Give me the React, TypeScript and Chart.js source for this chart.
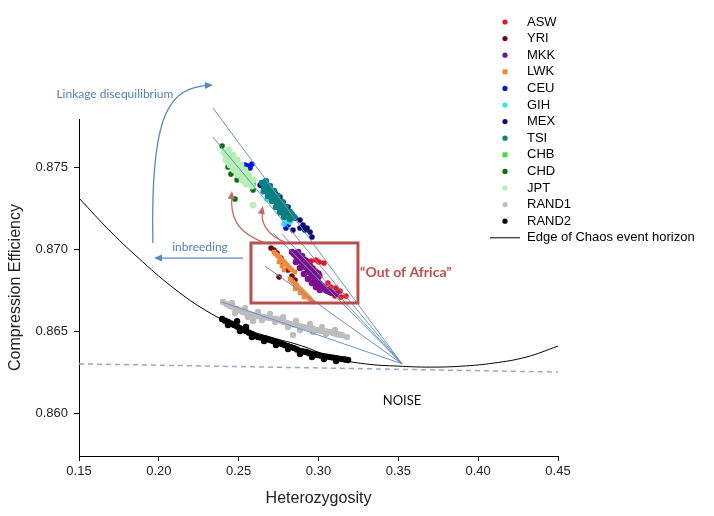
import React, { useEffect, useRef } from 'react';
import { Chart, registerables } from 'chart.js';

Chart.register(...registerables);

// ---------- axis ticks ----------
const xTicks = [0.15, 0.2, 0.25, 0.3, 0.35, 0.4, 0.45];
const yTicks = [0.86, 0.865, 0.87, 0.875];

// ---------- series (Heterozygosity, Compression Efficiency) ----------
const ASW: number[][] = [
  [0.2934, 0.86915], [0.2953, 0.86927], [0.2984, 0.86933], [0.3003, 0.86921], [0.3034, 0.86915],
  [0.2966, 0.86884], [0.2984, 0.86866], [0.3009, 0.86835], [0.3059, 0.86793], [0.3078, 0.86768],
  [0.311, 0.86762], [0.3135, 0.86744], [0.3172, 0.86713], [0.3103, 0.86713], [0.3141, 0.86707],
  [0.3047, 0.86744], [0.3022, 0.86768],
];
const YRI: number[][] = [
  [0.2703, 0.87006], [0.2721, 0.86994], [0.274, 0.86976], [0.2765, 0.86945], [0.2778, 0.86915],
  [0.2809, 0.86872], [0.2834, 0.86835], [0.2853, 0.86811], [0.2859, 0.8678], [0.2753, 0.86829],
];
const MKK: number[][] = [
  [0.2834, 0.86982], [0.2859, 0.86957], [0.2884, 0.86933], [0.2909, 0.86902], [0.2934, 0.86872],
  [0.2959, 0.86841], [0.2984, 0.86811], [0.3009, 0.86787], [0.3034, 0.86762], [0.3059, 0.86744],
  [0.3085, 0.86732], [0.311, 0.86726],
  [0.2872, 0.86982], [0.2897, 0.86957], [0.2922, 0.86927], [0.2947, 0.86896], [0.2972, 0.8686], [0.2997, 0.86829],
  [0.2859, 0.86921], [0.2884, 0.86884], [0.2909, 0.86848], [0.2934, 0.86817], [0.2959, 0.86793],
  [0.2984, 0.86768], [0.3009, 0.8675],
  [0.2847, 0.8697], [0.2872, 0.86945], [0.2897, 0.86918], [0.2922, 0.86887], [0.2947, 0.86857],
  [0.2972, 0.86826], [0.2997, 0.86799], [0.3022, 0.86775], [0.3047, 0.86753], [0.3072, 0.86738],
  [0.291, 0.86935], [0.296, 0.8688], [0.3, 0.8685],
];
const LWK: number[][] = [
  [0.2721, 0.86982], [0.274, 0.86963], [0.2759, 0.86945], [0.2778, 0.86927], [0.2796, 0.86909],
  [0.2815, 0.8689], [0.2834, 0.86872], [0.2753, 0.86921], [0.2771, 0.86896], [0.2784, 0.86872],
  [0.2853, 0.8686], [0.273, 0.86972], [0.275, 0.86954], [0.2768, 0.86936], [0.2787, 0.86918],
  [0.2805, 0.869], [0.2824, 0.86881],
  [0.2821, 0.86817], [0.284, 0.86799], [0.2859, 0.8678], [0.2878, 0.86762], [0.2897, 0.86744],
  [0.2915, 0.86726], [0.2934, 0.86707], [0.2953, 0.86689], [0.2966, 0.86677], [0.2853, 0.86756],
  [0.2884, 0.86732], [0.2909, 0.86707], [0.283, 0.86808], [0.285, 0.8679], [0.2868, 0.86771],
  [0.2888, 0.86753], [0.2906, 0.86735], [0.2925, 0.86716], [0.2944, 0.86698],
];
const CEU: number[][] = [
  [0.2558, 0.87506], [0.2583, 0.87518], [0.2571, 0.87494], [0.254, 0.87512], [0.2652, 0.87384],
  [0.2796, 0.87128], [0.2809, 0.87146],
];
const GIH: number[][] = [
  [0.2652, 0.87348], [0.2677, 0.87305], [0.2759, 0.87219], [0.2803, 0.87171], [0.2784, 0.87152],
  [0.2821, 0.87165],
];
const MEX: number[][] = [
  [0.2634, 0.8739], [0.2646, 0.87402], [0.2665, 0.87378], [0.2728, 0.87341], [0.2759, 0.87317],
  [0.2778, 0.87287], [0.2809, 0.87256], [0.2834, 0.87207], [0.2853, 0.87189], [0.2884, 0.87177],
  [0.2903, 0.87146], [0.2928, 0.87128], [0.2959, 0.87073], [0.2884, 0.87128], [0.284, 0.87116],
  [0.2947, 0.87104], [0.2915, 0.87116],
];
const TSI: number[][] = [
  [0.2646, 0.87402], [0.2671, 0.87372], [0.2696, 0.87341], [0.2721, 0.87311], [0.2746, 0.87274],
  [0.2771, 0.87244], [0.2796, 0.87213], [0.2821, 0.87183],
  [0.2671, 0.87415], [0.2696, 0.87384], [0.2721, 0.87354], [0.2746, 0.87323], [0.2771, 0.87287],
  [0.2796, 0.87256], [0.2821, 0.87226], [0.2847, 0.87195],
  [0.2659, 0.87354], [0.2684, 0.87323], [0.2709, 0.87293], [0.2734, 0.87256], [0.2759, 0.87226],
  [0.2784, 0.87195],
  [0.2659, 0.87388], [0.2684, 0.87357], [0.2709, 0.87326], [0.2734, 0.87293], [0.2759, 0.87259],
  [0.2784, 0.87228], [0.2809, 0.87198], [0.2834, 0.8721],
];
const CHB: number[][] = [
  [0.2427, 0.87561], [0.2446, 0.87537], [0.2596, 0.87396], [0.2565, 0.87433],
];
const CHD: number[][] = [
  [0.2396, 0.87628], [0.2433, 0.875], [0.2452, 0.87457], [0.249, 0.87421], [0.2477, 0.87305],
  [0.259, 0.8736], [0.2583, 0.87402],
];
const JPT: number[][] = [
  [0.2408, 0.87591], [0.2433, 0.87561], [0.2458, 0.8753], [0.2483, 0.875], [0.2508, 0.8747],
  [0.2533, 0.87439], [0.2558, 0.87409], [0.2583, 0.87384],
  [0.2439, 0.87604], [0.2464, 0.87573], [0.249, 0.87543], [0.2515, 0.87512], [0.254, 0.87482],
  [0.2565, 0.87451], [0.259, 0.87421],
  [0.2421, 0.87543], [0.2446, 0.87512], [0.2471, 0.87482], [0.2496, 0.87451], [0.2521, 0.87421],
  [0.2546, 0.87396], [0.259, 0.87268],
  [0.242, 0.87575], [0.2446, 0.87548], [0.2471, 0.87515], [0.2496, 0.87485], [0.2521, 0.87455],
  [0.2546, 0.87424], [0.2571, 0.874],
];
const RAND1: number[][] = [
  [0.2402, 0.86677], [0.2446, 0.86652], [0.249, 0.86634], [0.2527, 0.86616], [0.2571, 0.86604],
  [0.2615, 0.86591], [0.2659, 0.86585], [0.2696, 0.86579], [0.274, 0.86573], [0.2784, 0.86555],
  [0.2822, 0.86543], [0.2865, 0.86537], [0.2909, 0.86524], [0.2947, 0.86518], [0.2991, 0.86506],
  [0.3028, 0.865], [0.3072, 0.86494], [0.311, 0.86482], [0.3147, 0.86476], [0.3178, 0.86463],
  [0.2458, 0.86671], [0.254, 0.8664], [0.2621, 0.86616], [0.2696, 0.86604], [0.2778, 0.86585],
  [0.2859, 0.86561], [0.2947, 0.86543], [0.3022, 0.86524], [0.3103, 0.86506],
  [0.2477, 0.8661], [0.2558, 0.86585], [0.2646, 0.86567], [0.2728, 0.86555], [0.2809, 0.86524],
  [0.2884, 0.86506], [0.2966, 0.86494], [0.3047, 0.86482], [0.259, 0.86561], [0.284, 0.86476],
  [0.2424, 0.86664], [0.2468, 0.86643], [0.2509, 0.86625], [0.2549, 0.8661], [0.2593, 0.86597],
  [0.2637, 0.86588], [0.2677, 0.86582], [0.2718, 0.86576], [0.2762, 0.86564], [0.2803, 0.86549],
  [0.2843, 0.8654], [0.2887, 0.8653], [0.2928, 0.86521], [0.2969, 0.86512], [0.3009, 0.86503],
  [0.305, 0.86497], [0.3091, 0.86488], [0.3128, 0.86479],
];
const RAND2: number[][] = [
  [0.2396, 0.86573], [0.2433, 0.86555], [0.2471, 0.86537], [0.2508, 0.86518], [0.2546, 0.865],
  [0.2583, 0.86482], [0.2621, 0.86463], [0.2659, 0.86457], [0.2696, 0.86445], [0.2734, 0.86433],
  [0.2771, 0.86421], [0.2809, 0.86408], [0.2847, 0.86396], [0.2884, 0.86378], [0.2922, 0.86372],
  [0.2959, 0.8636], [0.2997, 0.86354], [0.3034, 0.86347], [0.3072, 0.86341], [0.311, 0.86335],
  [0.3147, 0.86329], [0.3185, 0.86323],
  [0.2433, 0.86537], [0.2508, 0.865], [0.2583, 0.86464], [0.2659, 0.86439], [0.2734, 0.86415],
  [0.2809, 0.8639], [0.2884, 0.8636], [0.2959, 0.86342], [0.3034, 0.86329], [0.311, 0.86317],
  [0.249, 0.8656], [0.2546, 0.86525],
  [0.2415, 0.86563], [0.2452, 0.86546], [0.249, 0.86528], [0.2527, 0.86509], [0.2565, 0.8649],
  [0.2602, 0.86472], [0.264, 0.8646], [0.2677, 0.86451], [0.2715, 0.86439], [0.2752, 0.86427],
  [0.279, 0.86414], [0.2828, 0.86402], [0.2865, 0.86387], [0.2903, 0.86375], [0.294, 0.86366],
  [0.2978, 0.86357], [0.3016, 0.8635], [0.3053, 0.86344], [0.3091, 0.86338], [0.3128, 0.86332],
  [0.3166, 0.86326],
];

const seriesNames = ['ASW', 'YRI', 'MKK', 'LWK', 'CEU', 'GIH', 'MEX', 'TSI', 'CHB', 'CHD', 'JPT', 'RAND1', 'RAND2'];
const seriesData = [ASW, YRI, MKK, LWK, CEU, GIH, MEX, TSI, CHB, CHD, JPT, RAND1, RAND2];
const seriesColors = ['#e8141c', '#6d0a12', '#7a1090', '#f28a3c', '#0a14d8', '#30e0f0', '#0a0a78', '#0a8080', '#3ee03e', '#0a6e0a', '#b4f0b4', '#bdbdbd', '#000000'];
const seriesShapes = ['circle', 'circle', 'circle', 'rect', 'circle', 'circle', 'circle', 'circle', 'rect', 'circle', 'circle', 'circle', 'circle'];
const seriesRadius = [2.8, 2.8, 3.3, 3.2, 2.8, 2.8, 2.8, 3.3, 2.8, 2.8, 3.4, 3.2, 3.2];

// ---------- Edge of Chaos event horizon ----------
const edgeX = [0.15, 0.17, 0.19, 0.21, 0.23, 0.25, 0.27, 0.29, 0.31, 0.33, 0.35, 0.37, 0.39, 0.41, 0.43, 0.45];
const edgeY = [0.87311, 0.87104, 0.86921, 0.86756, 0.86622, 0.86524, 0.86463, 0.86408, 0.86335, 0.86299, 0.86286, 0.8628, 0.86286, 0.86305, 0.86341, 0.86408];

// ---------- noise floor (dashed) ----------
const noiseX = [0.15, 0.45];
const noiseY = [0.863, 0.8625];

// ---------- fan lines to the noise point ----------
const fanApex = [0.3523, 0.863];
const fanStarts: number[][] = [
  [0.2339, 0.8786], [0.2339, 0.87683], [0.2715, 0.87098], [0.2771, 0.87091], [0.2665, 0.86896], [0.2396, 0.86677],
];

// ---------- annotations (data coordinates) ----------
const ldArrow = [[0.1963, 0.87037], [0.1945, 0.87848], [0.207, 0.87982], [0.2339, 0.88]];
const ldLabel = { text: 'Linkage disequilibrium', at: [0.1725, 0.87945] };
const inbreedArrow = [[0.2527, 0.86945], [0.197, 0.86945]];
const inbreedLabel = { text: 'inbreeding', at: [0.2258, 0.87012] };
const redArrows = [
  [[0.2665, 0.87037], [0.2477, 0.87104], [0.2446, 0.87207], [0.2458, 0.87354]],
  [[0.2803, 0.87037], [0.2665, 0.87085], [0.2634, 0.87177], [0.2652, 0.87262]],
];
const africaBox = [[0.2577, 0.87037], [0.3247, 0.86671]];
const africaLabel = { text: '\u201COut of Africa\u201D', at: [0.326, 0.8686] };
const noiseLabel = { text: 'NOISE', at: [0.3523, 0.86073] };

const edgeLabel = 'Edge of Chaos event horizon';

function arrowHead(ctx: CanvasRenderingContext2D, fx: number, fy: number, tx: number, ty: number, color: string) {
  const a = Math.atan2(ty - fy, tx - fx);
  const len = 8, w = 3.5;
  ctx.save();
  ctx.fillStyle = color;
  ctx.beginPath();
  ctx.moveTo(tx, ty);
  ctx.lineTo(tx - len * Math.cos(a) + w * Math.sin(a), ty - len * Math.sin(a) - w * Math.cos(a));
  ctx.lineTo(tx - len * Math.cos(a) - w * Math.sin(a), ty - len * Math.sin(a) + w * Math.cos(a));
  ctx.closePath();
  ctx.fill();
  ctx.restore();
}

const overlayPlugin = {
  id: 'overlay',
  afterDatasetsDraw(chart: any) {
    const { ctx } = chart;
    const xs = chart.scales.x, ys = chart.scales.y;
    const P = (p: number[]) => [xs.getPixelForValue(p[0]), ys.getPixelForValue(p[1])];
    ctx.save();
    const [b1x, b1y] = P(africaBox[0]);
    const [b2x, b2y] = P(africaBox[1]);
    ctx.strokeStyle = '#b5504e';
    ctx.lineWidth = 3;
    ctx.strokeRect(b1x, b1y, b2x - b1x, b2y - b1y);

    const red = '#c46a66';
    redArrows.forEach((pts) => {
      const q = pts.map(P);
      ctx.strokeStyle = red;
      ctx.lineWidth = 1.3;
      ctx.beginPath();
      ctx.moveTo(q[0][0], q[0][1]);
      ctx.bezierCurveTo(q[1][0], q[1][1], q[2][0], q[2][1], q[3][0], q[3][1] + 4);
      ctx.stroke();
      arrowHead(ctx, q[2][0], q[2][1], q[3][0], q[3][1], red);
    });

    const blue = '#5a86c0';
    const l = ldArrow.map(P);
    ctx.strokeStyle = blue;
    ctx.lineWidth = 1.3;
    ctx.beginPath();
    ctx.moveTo(l[0][0], l[0][1]);
    ctx.bezierCurveTo(l[1][0], l[1][1], l[2][0], l[2][1], l[3][0] - 4, l[3][1]);
    ctx.stroke();
    arrowHead(ctx, l[2][0], l[2][1], l[3][0], l[3][1], blue);

    const ib = inbreedArrow.map(P);
    ctx.beginPath();
    ctx.moveTo(ib[0][0], ib[0][1]);
    ctx.lineTo(ib[1][0] + 4, ib[1][1]);
    ctx.stroke();
    arrowHead(ctx, ib[0][0], ib[0][1], ib[1][0], ib[1][1], blue);

    ctx.textAlign = 'center';
    ctx.textBaseline = 'middle';
    ctx.fillStyle = '#4f7fbd';
    ctx.font = '12px Lato';
    let p = P(ldLabel.at);
    ctx.fillText(ldLabel.text, p[0], p[1]);
    p = P(inbreedLabel.at);
    ctx.fillText(inbreedLabel.text, p[0], p[1]);

    ctx.textAlign = 'left';
    ctx.fillStyle = '#c0504d';
    ctx.font = 'bold 14px Lato';
    p = P(africaLabel.at);
    ctx.fillText(africaLabel.text, p[0], p[1]);

    ctx.textAlign = 'center';
    ctx.fillStyle = '#111';
    ctx.font = '13px Lato';
    p = P(noiseLabel.at);
    ctx.fillText(noiseLabel.text, p[0], p[1]);
    ctx.restore();
  },
  afterDraw(chart: any) {
    const { ctx } = chart;
    ctx.save();
    const x0 = 505, tx = 527, y0 = 22, step = 16.6;
    ctx.font = '13px "Liberation Sans", Arial, sans-serif';
    ctx.textBaseline = 'middle';
    ctx.textAlign = 'left';
    seriesNames.forEach((name, i) => {
      const y = y0 + i * step;
      ctx.fillStyle = seriesColors[i];
      if (seriesShapes[i] === 'rect') {
        ctx.fillRect(x0 - 2.5, y - 2.5, 5, 5);
      } else {
        ctx.beginPath();
        ctx.arc(x0, y, 2.6, 0, Math.PI * 2);
        ctx.fill();
      }
      ctx.fillStyle = '#000';
      ctx.fillText(name, tx, y);
    });
    const ly = y0 + seriesNames.length * step;
    ctx.strokeStyle = '#000';
    ctx.lineWidth = 1;
    ctx.beginPath();
    ctx.moveTo(490, ly);
    ctx.lineTo(520, ly);
    ctx.stroke();
    ctx.fillStyle = '#000';
    ctx.fillText(edgeLabel, tx, ly);
    ctx.restore();
  },
};

export default function App() {
  const ref = useRef<HTMLCanvasElement | null>(null);
  useEffect(() => {
    if (!ref.current) return;
    const scatterSets = seriesNames.map((name, i) => ({
      type: 'scatter' as const,
      label: name,
      data: seriesData[i].map(([x, y]) => ({ x, y })),
      backgroundColor: seriesColors[i],
      borderWidth: 0,
      pointStyle: seriesShapes[i],
      pointRadius: seriesRadius[i],
      order: 100 - i,
    }));
    const fanSets = fanStarts.map((s, i) => ({
      type: 'line' as const,
      label: 'fan' + i,
      data: [{ x: s[0], y: s[1] }, { x: fanApex[0], y: fanApex[1] }],
      borderColor: '#6b93c8',
      borderWidth: 1,
      pointRadius: 0,
      showLine: true,
      clip: false as any,
      order: 1,
    }));
    const chart = new Chart(ref.current, {
      type: 'scatter',
      data: {
        datasets: [
          ...scatterSets,
          {
            type: 'line',
            label: edgeLabel,
            data: edgeX.map((x, i) => ({ x, y: edgeY[i] })),
            borderColor: '#000',
            borderWidth: 1,
            pointRadius: 0,
            showLine: true,
            tension: 0.4,
            order: 200,
          } as any,
          {
            type: 'line',
            label: 'noise',
            data: noiseX.map((x, i) => ({ x, y: noiseY[i] })),
            borderColor: '#8eaad4',
            borderWidth: 1.5,
            borderDash: [5, 4],
            pointRadius: 0,
            showLine: true,
            order: 2,
          } as any,
          ...fanSets,
        ] as any,
      },
      options: {
        responsive: false,
        animation: false,
        layout: { padding: { top: 119, right: 156, left: 0, bottom: 0 } },
        plugins: { legend: { display: false }, tooltip: { enabled: false } },
        scales: {
          x: {
            type: 'linear',
            min: 0.15,
            max: 0.45,
            afterFit: (s: any) => { s.height = 60; },
            afterBuildTicks: (s: any) => { s.ticks = xTicks.map((v) => ({ value: v })); },
            ticks: {
              callback: (v: any) => Number(v).toFixed(2),
              font: { family: '"Liberation Sans", Arial, sans-serif', size: 13 },
              color: '#222',
              padding: 3,
              maxRotation: 0,
            },
            grid: { display: true, drawOnChartArea: false, drawTicks: true, tickLength: 5, color: '#000' },
            border: { display: true, color: '#000', width: 1 },
            title: {
              display: true,
              text: 'Heterozygosity',
              font: { family: '"Liberation Sans", Arial, sans-serif', size: 16 },
              color: '#222',
              padding: { top: 0, bottom: 8 },
            },
          },
          y: {
            type: 'linear',
            min: 0.85738,
            max: 0.87793,
            afterFit: (s: any) => { s.width = 79; },
            afterBuildTicks: (s: any) => { s.ticks = yTicks.map((v) => ({ value: v })); },
            ticks: {
              callback: (v: any) => Number(v).toFixed(3),
              font: { family: '"Liberation Sans", Arial, sans-serif', size: 13 },
              color: '#222',
              padding: 6,
            },
            grid: { display: true, drawOnChartArea: false, drawTicks: true, tickLength: 5, color: '#000' },
            border: { display: true, color: '#000', width: 1 },
            title: {
              display: true,
              text: 'Compression Efficiency',
              font: { family: '"Liberation Sans", Arial, sans-serif', size: 16 },
              color: '#222',
              padding: { top: 6, bottom: 0 },
            },
          },
        },
      },
      plugins: [overlayPlugin],
    });
    return () => chart.destroy();
  }, []);
  return (
    <div style={{ position: 'absolute', left: 0, top: 0, width: 714, height: 516, background: '#fff' }}>
      <canvas ref={ref} width={714} height={516} style={{ width: 714, height: 516, display: 'block' }} />
    </div>
  );
}
